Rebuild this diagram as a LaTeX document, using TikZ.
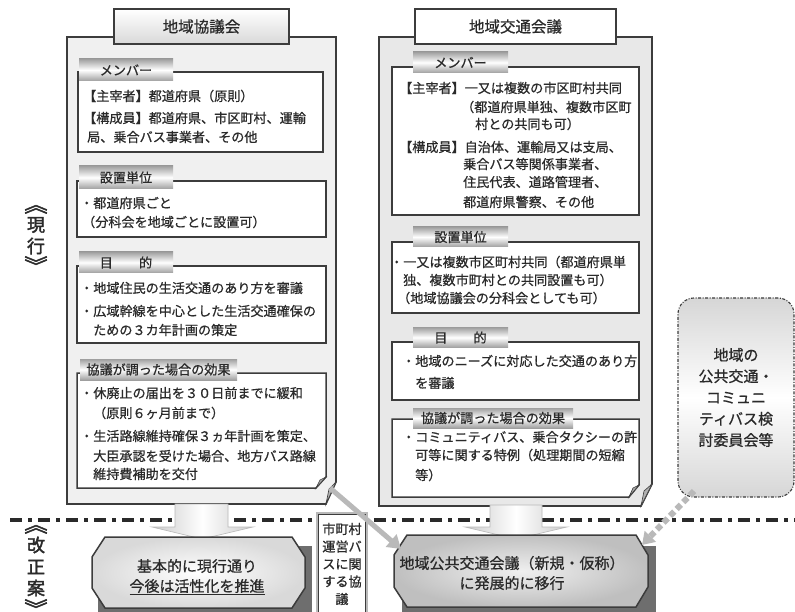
\documentclass[tikz,border=0pt]{standalone}
\usepackage{fontspec}
\setmainfont{Noto Sans CJK JP}[FakeBold=0.7]
\newfontfamily\vfont{Noto Sans CJK JP}[FakeBold=2.2]
\usetikzlibrary{arrows.meta}
\definecolor{ink}{HTML}{2A2A2A}
\definecolor{frame}{HTML}{3C3C3C}
\definecolor{shadowc}{HTML}{6E6E6E}
\newcommand\vbra[1]{\smash{\scalebox{1.3}[1.1]{#1}}}
\tikzset{
  txt/.style={anchor=west, inner sep=0pt, font=\fontsize{13.1}{15}\selectfont, text=ink},
  bigbox/.style={draw=frame, line width=1.6pt},
  secbox/.style={draw=frame, line width=1.5pt, fill=white},
  sectab/.style={top color=gray!75, bottom color=gray!75, middle color=white, inner sep=0pt,
    font=\fontsize{13.1}{15}\selectfont, text=ink},
  titletab/.style={draw=frame, line width=2pt, inner sep=0pt, font=\fontsize{15.5}{18}\selectfont, text=ink},
  fold/.style={fill=gray!60, draw=frame, line width=0.6pt},
  downarrow/.style={left color=gray!40, right color=gray!40, middle color=white, draw=gray!55, line width=0.6pt},
  octagon/.style={draw=frame, line width=1.5pt},
  octtext/.style={align=center, inner sep=0pt, font=\fontsize{15}{20}\selectfont, text=ink},
  vlabel/.style={inner sep=0pt, font=\vfont\fontsize{18}{19}\selectfont, text=ink},
  vbracket/.style={vlabel, anchor=base},
  sepline/.style={line width=3.5pt, draw=ink, dash pattern=on 12pt off 6pt on 4pt off 6pt},
  grayarrow/.style={line width=5pt, draw=gray!55, -{Triangle[length=13pt,width=16pt,fill=gray!55]}},
  dotarrow/.style={line width=6pt, draw=gray!55, dash pattern=on 6pt off 3.5pt, -{Triangle[length=12pt,width=15pt,fill=gray!55]}},
}
\begin{document}
\begin{tikzpicture}[x=1pt,y=-1pt]
\useasboundingbox (0,0) rectangle (795,612);
\fill[white] (0,0) rectangle (795,612);

% ---------------- big boxes ----------------
\draw[bigbox, fill=gray!12] (67,37) -- (336,37) -- (336,482) -- (326,504) -- (67,504) -- cycle;
\draw[fold] (336,482) -- (326,504) -- (329,489) -- cycle;
\draw[bigbox, fill=gray!18] (379,37) -- (652,37) -- (652,484) -- (641,506) -- (379,506) -- cycle;
\draw[fold] (652,484) -- (641,506) -- (644,491) -- cycle;

\node[titletab, top color=white, bottom color=gray!30, minimum width=175pt, minimum height=35pt] (ltitle) at (201.5,26.5) {地域協議会};
\node[titletab, fill=white, minimum width=201pt, minimum height=35pt] (rtitle) at (515.5,26.5) {地域交通会議};

% ---------------- left sections ----------------
\draw[secbox] (78,72) rectangle (323,152);
\node[sectab, minimum width=94pt, minimum height=22pt] (l1tab) at (126,70) {メンバー};
\node[txt] (l1a) at (83,96) {【主宰者】都道府県（原則）};
\node[txt] (l1b) at (83,118) {【構成員】都道府県、市区町村、運輸};
\node[txt] (l1c) at (87,137) {局、乗合バス事業者、その他};

\draw[secbox] (77,181) rectangle (326,237);
\node[sectab, minimum width=94pt, minimum height=23pt] (l2tab) at (126,177.5) {設置単位};
\node[txt] (l2a) at (80,203) {・都道府県ごと};
\node[txt] (l2b) at (82,222) {（分科会を地域ごとに設置可）};

\draw[secbox] (77,266) rectangle (326,343);
\node[sectab, minimum width=94pt, minimum height=21pt] (l3tab) at (126,262.5) {目　　的};
\node[txt] (l3a) at (80,288) {・地域住民の生活交通のあり方を審議};
\node[txt] (l3b) at (80,311) {・広域幹線を中心とした生活交通確保の};
\node[txt] (l3c) at (93,330) {ための３カ年計画の策定};

\draw[secbox] (77,373) -- (326,373) -- (326,477) -- (316,488) -- (77,488) -- cycle;
\draw[fold, fill=gray!70] (326,477) -- (316,488) -- (320,480) -- cycle;
\node[sectab, minimum width=157pt, minimum height=21pt] (l4tab) at (158.5,369.5) {協議が調った場合の効果};
\node[txt] (l4a) at (80,393) {・休廃止の届出を３０日前までに緩和};
\node[txt] (l4b) at (93,413) {（原則６ヶ月前まで）};
\node[txt] (l4c) at (80,436) {・生活路線維持確保３ヵ年計画を策定、};
\node[txt] (l4d) at (93,456) {大臣承認を受けた場合、地方バス路線};
\node[txt] (l4e) at (93,474) {維持費補助を交付};

% ---------------- right sections ----------------
\draw[secbox] (392,67) rectangle (639,215);
\node[sectab, minimum width=95pt, minimum height=21pt] (r1tab) at (460.5,62.5) {メンバー};
\node[txt] (r1a) at (399,88) {【主宰者】一又は複数の市区町村共同};
\node[txt] (r1b) at (461,107) {（都道府県単独、複数市区町};
\node[txt] (r1c) at (475,124) {村との共同も可）};
\node[txt] (r1d) at (399,147) {【構成員】自治体、運輸局又は支局、};
\node[txt] (r1e) at (463,164) {乗合バス等関係事業者、};
\node[txt] (r1f) at (463,182) {住民代表、道路管理者、};
\node[txt] (r1g) at (463,202) {都道府県警察、その他};

\draw[secbox] (392,242) rectangle (639,313);
\node[sectab, minimum width=95pt, minimum height=20pt] (r2tab) at (460.5,237) {設置単位};
\node[txt] (r2a) at (390,262) {・一又は複数市区町村共同（都道府県単};
\node[txt] (r2b) at (403,280) {独、複数市町村との共同設置も可）};
\node[txt] (r2c) at (397,298) {（地域協議会の分科会としても可）};

\draw[secbox] (392,342) rectangle (639,400);
\node[sectab, minimum width=95pt, minimum height=20pt] (r3tab) at (460.5,337.5) {目　　的};
\node[txt] (r3a) at (402,361) {・地域のニーズに対応した交通のあり方};
\node[txt] (r3b) at (415,383) {を審議};

\draw[secbox] (392,419) -- (639,419) -- (639,485) -- (629,497) -- (392,497) -- cycle;
\draw[fold, fill=gray!70] (639,485) -- (629,497) -- (633,488) -- cycle;
\node[sectab, minimum width=160pt, minimum height=20pt] (r4tab) at (493,418) {協議が調った場合の効果};
\node[txt] (r4a) at (402,437) {・コミュニティバス、乗合タクシーの許};
\node[txt] (r4b) at (415,455) {可等に関する特例（処理期間の短縮};
\node[txt] (r4c) at (415,475) {等）};

% ---------------- side panel ----------------
\node[draw=frame, line width=1.1pt, dash pattern=on 3pt off 1.5pt on 1pt off 1.5pt,
      rounded corners=16pt, top color=gray!32, bottom color=gray!32, middle color=white,
      minimum width=116pt, minimum height=199pt, align=center,
      font=\fontsize{15}{21.3}\selectfont, text=ink] (panel) at (736,397.5)
      {地域の\\公共交通・\\コミュニ\\ティバス検\\討委員会等};

% ---------------- vertical labels ----------------
\node[vbracket] (nowA) at (36,212) {\vbra{︽}};
\node[vlabel] (nowB) at (36,225) {現};
\node[vlabel] (nowC) at (36,246) {行};
\node[vbracket] (nowD) at (36,273) {\vbra{︾}};
\node[vbracket] (planA) at (36,532) {\vbra{︽}};
\node[vlabel] (planB) at (36,545) {改};
\node[vlabel] (planC) at (36,567) {正};
\node[vlabel] (planD) at (36,588) {案};
\node[vbracket] (planE) at (36,616) {\vbra{︾}};

% ---------------- separator ----------------
\coordinate (sepL) at (10,520);
\coordinate (sepR) at (795,520);
\draw[sepline] (sepL) -- (sepR);

% ---------------- down arrows ----------------
\path[downarrow] (175,504) -- (228,504) -- (228,527) -- (253,527) -- (202,539) -- (152,527) -- (175,527) -- cycle;
\path[downarrow] (490,505) -- (542,505) -- (542,527) -- (567,527) -- (516,539) -- (465,527) -- (490,527) -- cycle;

% ---------------- lower octagons ----------------
\fill[shadowc] (98,546) rectangle (312,616);
\path[octagon, inner color=white, outer color=gray!30]
  (105,537) -- (292,537) -- (305,557) -- (305,588) -- (292,608) -- (105,608) -- (92,588) -- (92,557) -- cycle;
\node[octtext] (ltext) at (197,577) {基本的に現行通り\\\underline{今後は活性化を推進}};

\fill[shadowc] (402,546) rectangle (656,616);
\path[octagon, inner color=gray!12, outer color=gray!50]
  (407,535) -- (636,535) -- (648,555) -- (648,587) -- (636,607) -- (407,607) -- (394,587) -- (394,555) -- cycle;
\node[octtext] (rtext) at (512,573) {地域公共交通会議（新規・仮称）\\に発展的に移行};

% ---------------- middle box ----------------
\node[draw=gray!55, line width=2.5pt, fill=white, minimum width=50pt, minimum height=102pt,
      align=center, inner sep=0pt, font=\fontsize{13.1}{17.5}\selectfont, text=ink] (mid) at (342,564)
      {市町村\\運営バ\\スに関\\する協\\議};
\draw[frame, line width=0.6pt] (318.5,514.5) rectangle (365.5,616);

% ---------------- connectors ----------------
\coordinate (lcorner) at (330,488);
\coordinate (rotl) at (401,549);
\coordinate (pfoot) at (694,491);
\coordinate (rotr) at (642,545);
\draw[grayarrow] (lcorner) -- (rotl);
\draw[dotarrow] (pfoot) -- (rotr);
\end{tikzpicture}
\end{document}
